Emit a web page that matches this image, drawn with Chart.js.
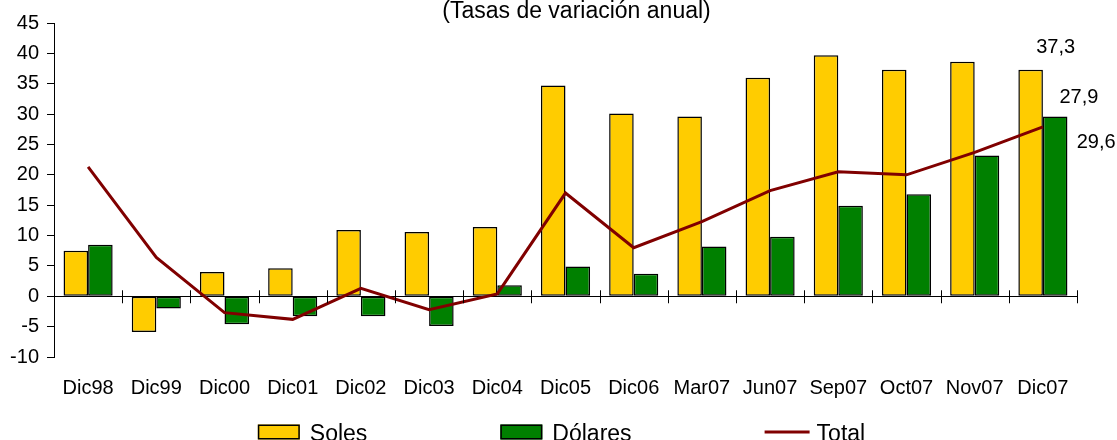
<!DOCTYPE html>
<html>
<head>
<meta charset="utf-8">
<script src="https://cdn.jsdelivr.net/npm/chart.js@4/dist/chart.umd.min.js"></script>
<style>
  html, body { margin: 0; padding: 0; background: #fff; }
  #wrap { width: 1117px; height: 440px; position: relative; }
</style>
</head>
<body>
<div id="wrap"><canvas id="c"></canvas></div>
<script>
const categories = ["Dic98","Dic99","Dic00","Dic01","Dic02","Dic03","Dic04","Dic05","Dic06","Mar07","Jun07","Sep07","Oct07","Nov07","Dic07"];
const soles   = [7.5, -5.9, 4.0, 4.6, 10.9, 10.6, 11.4, 34.7, 30.1, 29.6, 36.0, 39.7, 37.3, 38.6, 37.3];
const dolares = [8.5, -2.0, -4.6, -3.3, -3.3, -4.9, 1.8, 4.9, 3.7, 8.2, 9.8, 14.9, 16.8, 23.2, 29.6];
const total   = [21.3, 6.4, -2.7, -3.8, 1.3, -2.2, 0.4, 17.0, 8.0, 12.3, 17.4, 20.5, 20.0, 23.7, 27.9];
const seriesNames = ["Soles", "Dólares", "Total"];
const titleText = "(Tasas de variación anual)";
const yMin = -10, yMax = 45, yStep = 5;

const FONT = '"Liberation Sans", Arial, sans-serif';
const fmt = v => v.toFixed(1).replace('.', ',');

const titlePlugin = {
  id: 'topTitle',
  afterDraw(chart) {
    const ctx = chart.ctx, a = chart.chartArea;
    ctx.save();
    ctx.font = '23px ' + FONT;
    ctx.fillStyle = '#000';
    ctx.textAlign = 'center';
    ctx.textBaseline = 'alphabetic';
    ctx.fillText(titleText, (a.left + a.right) / 2 + 11, 18);
    ctx.restore();
  }
};

const crossTicks = {
  id: 'crossTicks',
  afterDatasetsDraw(chart) {
    const ctx = chart.ctx, xs = chart.scales.x, ys = chart.scales.y;
    const y0 = ys.getPixelForValue(0);
    ctx.save();
    ctx.strokeStyle = '#000';
    ctx.lineWidth = 1;
    ctx.beginPath();
    for (let i = 1; i <= categories.length; i++) {
      const x = Math.round(xs.getPixelForValue(i - 0.5)) + 0.5;
      ctx.moveTo(x, y0 - 6);
      ctx.lineTo(x, y0 + 7);
    }
    ctx.stroke();
    ctx.restore();
  }
};

const endLabels = {
  id: 'endLabels',
  afterDatasetsDraw(chart) {
    const ctx = chart.ctx;
    const last = categories.length - 1;
    const specs = [
      { ds: 0, dx: 25, dy: -22, v: soles[last] },
      { ds: 2, dx: 36, dy: -29, v: total[last] },
      { ds: 1, dx: 41, dy: 26, v: dolares[last] }
    ];
    ctx.save();
    ctx.font = '20px ' + FONT;
    ctx.fillStyle = '#000';
    ctx.textAlign = 'center';
    ctx.textBaseline = 'middle';
    specs.forEach(s => {
      const el = chart.getDatasetMeta(s.ds).data[last];
      ctx.fillText(fmt(s.v), el.x + s.dx, el.y + s.dy);
    });
    ctx.restore();
  }
};

const customLegend = {
  id: 'customLegend',
  afterDraw(chart) {
    const ctx = chart.ctx;
    ctx.save();
    ctx.font = '23px ' + FONT;
    const boxW = 42, boxH = 15, gapText = 10, gapItem = 133;
    const widths = seriesNames.map(n => ctx.measureText(n).width);
    let totalW = 0;
    widths.forEach((w, i) => { totalW += boxW + gapText + w + (i < widths.length - 1 ? gapItem : 0); });
    let x = chart.width / 2 + 3 - totalW / 2;
    const baseY = 440.5;
    const midY = 432;
    chart.data.datasets.forEach((ds, i) => {
      if (ds.type === 'line') {
        ctx.strokeStyle = ds.borderColor;
        ctx.lineWidth = 3;
        ctx.beginPath();
        ctx.moveTo(x, midY);
        ctx.lineTo(x + boxW + 3, midY);
        ctx.stroke();
      } else {
        ctx.fillStyle = ds.backgroundColor;
        ctx.fillRect(x, midY - 7.5, boxW, boxH);
        ctx.strokeStyle = '#000';
        ctx.lineWidth = 1.5;
        ctx.strokeRect(x + 0.75, midY - 7.5 + 0.75, boxW - 1.5, boxH - 1.5);
      }
      ctx.fillStyle = '#000';
      ctx.textAlign = 'left';
      ctx.textBaseline = 'alphabetic';
      ctx.fillText(seriesNames[i], x + boxW + gapText, baseY);
      x += boxW + gapText + widths[i] + gapItem;
    });
    ctx.restore();
  }
};

new Chart(document.getElementById('c'), {
  type: 'bar',
  data: {
    labels: categories,
    datasets: [
      { label: seriesNames[0], data: soles, backgroundColor: '#FFCC00', borderColor: '#000', borderWidth: 1.5, borderSkipped: false, order: 1 },
      { label: seriesNames[1], data: dolares, backgroundColor: '#008000', borderColor: '#000', borderWidth: 1.5, borderSkipped: false, order: 1 },
      { label: seriesNames[2], data: total, type: 'line', borderColor: '#800000', backgroundColor: '#800000',
        borderWidth: 3, pointRadius: 0, tension: 0, fill: false, order: 0 }
    ]
  },
  options: {
    responsive: true,
    maintainAspectRatio: false,
    animation: false,
    categoryPercentage: 0.72,
    barPercentage: 1.0,
    layout: { padding: { top: 23, right: 40, bottom: 21, left: 0 } },
    plugins: {
      legend: { display: false },
      title: { display: false },
      tooltip: { enabled: false }
    },
    scales: {
      x: {
        offset: true,
        grid: { display: false, drawTicks: false },
        border: { display: false },
        ticks: { color: '#000', font: { family: FONT, size: 20 }, padding: 19, maxRotation: 0, autoSkip: false }
      },
      y: {
        min: yMin, max: yMax,
        afterFit(scale) { scale.width = 54; },
        ticks: { stepSize: yStep, color: '#000', font: { family: FONT, size: 20 }, padding: 8 },
        grid: {
          color: c => (c.tick && c.tick.value === 0) ? '#000' : 'rgba(0,0,0,0)',
          tickColor: '#000',
          tickLength: 7,
          lineWidth: 1
        },
        border: { display: true, color: '#000', width: 1 }
      }
    }
  },
  plugins: [titlePlugin, crossTicks, endLabels, customLegend]
});
</script>
</body>
</html>
